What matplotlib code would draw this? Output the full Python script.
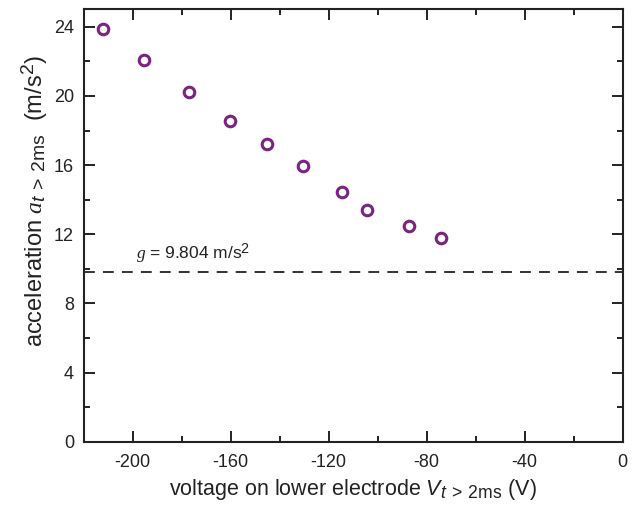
import matplotlib
matplotlib.use('Agg')
import matplotlib.pyplot as plt
import matplotlib._mathtext as mathtext_mod
from matplotlib.ticker import MultipleLocator

# data
voltage = [-212.1, -195.4, -176.9, -160.3, -145.3, -130.5, -114.4, -104.5, -87.1, -74.2]
accel = [23.85, 22.1, 20.25, 18.53, 17.23, 15.96, 14.43, 13.42, 12.47, 11.78]
g_value = 9.804

# bigger sub/superscripts, like the original figure
mathtext_mod.SHRINK_FACTOR = 0.82

plt.rcParams['font.family'] = ['Liberation Sans', 'DejaVu Sans']
plt.rcParams['axes.unicode_minus'] = False
plt.rcParams['mathtext.fontset'] = 'custom'
plt.rcParams['mathtext.rm'] = 'Liberation Sans'
plt.rcParams['mathtext.it'] = 'Liberation Serif:italic'
plt.rcParams['mathtext.bf'] = 'Liberation Sans:italic'

fig = plt.figure(figsize=(6.35, 5.05), dpi=100)
ax = fig.add_axes([0.1318, 0.1253, 0.8488, 0.8559])

ax.plot(voltage, accel, 'o', mfc='none', mec='#7b2382', mew=2.2, ms=7.6, zorder=3)
ax.axhline(g_value, color='#222222', lw=1.3, ls=(0, (6, 4.5)))
ax.text(-198.5, 10.6, r'$g$ = 9.804 m/s$^2$', fontsize=12.5, color='#222222')

ax.set_xlim(-220, 0)
ax.set_ylim(0, 25)
ax.xaxis.set_major_locator(MultipleLocator(40))
ax.xaxis.set_minor_locator(MultipleLocator(20))
ax.yaxis.set_major_locator(MultipleLocator(4))
ax.yaxis.set_minor_locator(MultipleLocator(2))

ax.tick_params(which='both', direction='in', top=True, right=True, width=1.4, color='#222222')
ax.tick_params(which='major', length=8, labelsize=13, labelcolor='#222222')
ax.tick_params(axis='x', which='major', pad=9)
ax.tick_params(axis='y', which='major', pad=7)
ax.tick_params(which='minor', length=4.5)
for s in ax.spines.values():
    s.set_linewidth(1.5)
    s.set_color('#222222')

ax.set_xlabel(r'voltage on lower electrode $\mathbf{V}_{\mathbf{t}\;>\;\mathrm{2ms}}$ (V)',
              fontsize=15.5, color='#222222', labelpad=4)
ax.set_ylabel(r'acceleration $\mathit{a}_{\mathbf{t}\;>\;\mathrm{2ms}}$  (m/s$^2$)',
              fontsize=17, color='#222222')
ax.yaxis.set_label_coords(-0.062, 0.556)

fig.savefig('out.png', dpi=100)
plt.close(fig)
